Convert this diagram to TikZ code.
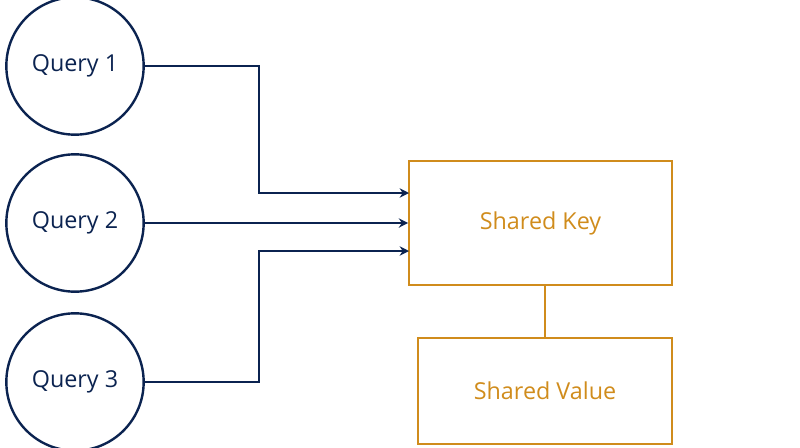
\documentclass[tikz,border=0pt]{standalone}
\usepackage{fontspec}
\setmainfont{Open Sans}
\usetikzlibrary{arrows.meta, positioning}
\definecolor{navy}{HTML}{0B2350}
\definecolor{gold}{HTML}{D08C1C}
\begin{document}
\begin{tikzpicture}[x=0.75pt, y=-0.75pt,
    query/.style={circle, draw=navy, line width=1.8pt, minimum size=103pt, inner sep=0pt, text=navy, font=\fontsize{17.5}{20}\selectfont},
    shared/.style={rectangle, draw=gold, line width=1.5pt, text=gold, font=\fontsize{17.5}{20}\selectfont},
    link/.style={draw=navy, line width=1.8pt, -{Stealth[length=7pt, width=7pt]}}]
    \useasboundingbox (0,0) rectangle (800,447);

    \node[query] (q1) at (75,66) {Query 1};
    \node[query] (q2) at (75,223) {Query 2};
    \node[query] (q3) at (75,382) {Query 3};

    \node[shared, minimum width=197pt, minimum height=93pt] (key) at (540.5,223) {Shared Key};
    \node[shared, minimum width=190pt, minimum height=79pt] (value) at (545,391) {Shared Value};

    \coordinate (k1) at (409,193);
    \coordinate (k3) at (409,251);

    \draw[link] (q1.east) -| (259,193) -- (k1);
    \draw[link] (q2.east) -- (key.west);
    \draw[link] (q3.east) -| (259,251) -- (k3);
    \draw[draw=gold, line width=1.5pt] (key.south -| value.north) -- (value.north);
\end{tikzpicture}
\end{document}
